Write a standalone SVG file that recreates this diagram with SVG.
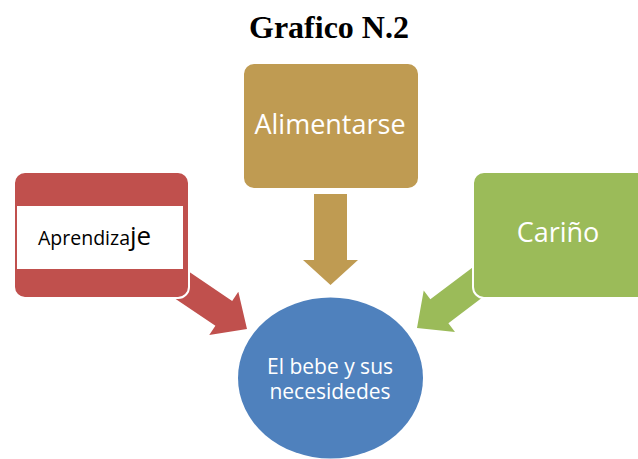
<svg xmlns="http://www.w3.org/2000/svg" width="638" height="459" viewBox="0 0 638 459">
<style>
.title{font-family:"Liberation Serif",serif;font-weight:bold;font-size:32px;fill:#000}
.lbl{font-family:"Open Sans","Liberation Sans",sans-serif;fill:#fff;text-anchor:middle}
.box{stroke:#fff;stroke-width:2}
</style>
<defs>
<polygon id="arr" points="-80,-15 -28,-15 -28,-26 0,0 -28,26 -28,15 -80,15"/>
</defs>
<rect width="638" height="459" fill="#fff"/>
<text class="title" x="329" y="38" text-anchor="middle">Grafico N.2</text>
<g id="connectors">
<use href="#arr" transform="translate(247,329) rotate(34)" fill="#C0504D"/>
<use href="#arr" transform="translate(417,328) rotate(143)" fill="#9BBB59"/>
<polygon points="314,194 347,194 347,260 358,260 330.5,285 303,260 314,260" fill="#BF9B52"/>
</g>
<g id="aprendizaje">
<rect class="box" x="14" y="172" width="175" height="126" rx="11" fill="#C0504D"/>
<rect x="17" y="206" width="166" height="63" fill="#fff"/>
<text x="38" y="245" font-family="'Open Sans','Liberation Sans',sans-serif" fill="#000" font-size="19.5">Aprendiza<tspan font-size="26">je</tspan></text>
</g>
<g id="alimentarse">
<rect class="box" x="243" y="63" width="176" height="126" rx="11" fill="#BF9B52"/>
<text class="lbl" x="330" y="134" font-size="27">Alimentarse</text>
</g>
<g id="carino">
<rect class="box" x="473" y="172" width="180" height="126" rx="11" fill="#9BBB59"/>
<text class="lbl" x="558" y="242" font-size="27">Cariño</text>
</g>
<g id="bebe">
<ellipse cx="330.5" cy="378" rx="92.5" ry="80.5" fill="#4F81BD"/>
<text class="lbl" x="330" y="374" font-size="21" fill="#EEF2F8">El bebe y sus</text>
<text class="lbl" x="330" y="399" font-size="21" fill="#EEF2F8">necesidedes</text>
</g>
</svg>
